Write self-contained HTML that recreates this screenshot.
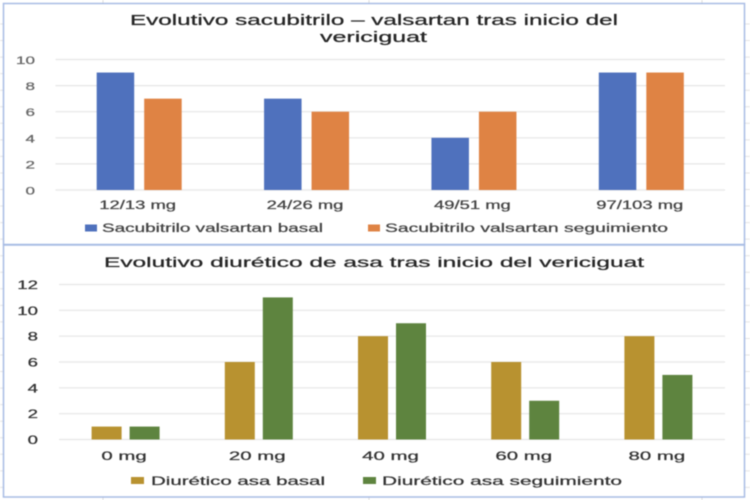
<!DOCTYPE html>
<html lang="es">
<head>
<meta charset="utf-8">
<title>Evolutivo sacubitrilo y diurético</title>
<style>
html,body{margin:0;padding:0;background:#fff;width:750px;height:500px;overflow:hidden}
svg{display:block;filter:blur(0.4px)}
text{font-family:"Liberation Sans",sans-serif;stroke:currentColor;stroke-width:0.25px}
</style>
</head>
<body>
<svg id="figure" xmlns="http://www.w3.org/2000/svg" width="750" height="500" viewBox="0 0 750 500">
  <g id="sheet"></g>
  <rect x="3.5" y="3.5" width="741" height="241" fill="#fff" stroke="#a8bce4" stroke-width="1.5"/>
  <rect x="3.5" y="245" width="741" height="252" fill="#fff" stroke="#a8bce4" stroke-width="1.5"/>

  <text x="130" y="25" font-size="14.5" fill="#262626" color="#262626" textLength="488" lengthAdjust="spacingAndGlyphs">Evolutivo sacubitrilo – valsartan tras inicio del</text>
  <text x="320" y="42" font-size="14.5" fill="#262626" color="#262626" textLength="107" lengthAdjust="spacingAndGlyphs">vericiguat</text>
  <g id="top-plot"></g>
  <rect x="85" y="224.5" width="12" height="7" fill="#4f71bd"/>
  <text x="102" y="232" font-size="11.5" fill="#444" color="#444" textLength="221" lengthAdjust="spacingAndGlyphs">Sacubitrilo valsartan basal</text>
  <rect x="368" y="224.5" width="12" height="7" fill="#df8344"/>
  <text x="385" y="232" font-size="11.5" fill="#444" color="#444" textLength="283" lengthAdjust="spacingAndGlyphs">Sacubitrilo valsartan seguimiento</text>

  <text x="104" y="267" font-size="14" fill="#262626" color="#262626" textLength="540" lengthAdjust="spacingAndGlyphs">Evolutivo diurético de asa tras inicio del vericiguat</text>
  <g id="bottom-plot"></g>
  <rect x="131" y="477" width="13" height="7" fill="#b89230"/>
  <text x="151" y="485" font-size="12" fill="#333" color="#333" textLength="174" lengthAdjust="spacingAndGlyphs">Diurético asa basal</text>
  <rect x="363" y="477" width="13" height="7" fill="#5e843f"/>
  <text x="382" y="485" font-size="12" fill="#333" color="#333" textLength="240" lengthAdjust="spacingAndGlyphs">Diurético asa seguimiento</text>
</svg>
<script>
const topCategories = ['12/13 mg', '24/26 mg', '49/51 mg', '97/103 mg'];
const topBasal = [9, 7, 4, 9];
const topSeguimiento = [7, 6, 6, 9];
const topTicks = [0, 2, 4, 6, 8, 10];

const bottomCategories = ['0 mg', '20 mg', '40 mg', '60 mg', '80 mg'];
const bottomBasal = [1, 6, 8, 6, 8];
const bottomSeguimiento = [1, 11, 9, 3, 5];
const bottomTicks = [0, 2, 4, 6, 8, 10, 12];

const NS = 'http://www.w3.org/2000/svg';

function make(parent, tag, attrs) {
  const el = document.createElementNS(NS, tag);
  for (const k in attrs) el.setAttribute(k, attrs[k]);
  parent.appendChild(el);
  return el;
}

function stretchedText(parent, str, x, y, size, fill, anchor, factor) {
  const t = make(parent, 'text', { x: x, y: y, 'font-size': size, fill: fill, color: fill, 'text-anchor': anchor });
  t.textContent = str;
  const natural = t.getComputedTextLength();
  t.setAttribute('textLength', natural * factor);
  t.setAttribute('lengthAdjust', 'spacingAndGlyphs');
  return t;
}

function drawChart(parent, cfg) {
  const maxTick = Math.max.apply(null, cfg.ticks);
  const yScale = v => cfg.y0 - (v / maxTick) * (cfg.y0 - cfg.yTop);
  const band = (cfg.x1 - cfg.x0) / cfg.categories.length;
  const xCenter = i => cfg.x0 + band * (i + 0.5);

  cfg.ticks.forEach(tick => {
    const y = yScale(tick);
    const line = make(parent, 'line', { x1: cfg.x0, x2: cfg.x1, y1: y, y2: y, stroke: '#e6e6e6', 'stroke-width': 1.2 });
    
    
    const label = stretchedText(parent, String(tick), cfg.tickX, y + 4.5, cfg.tickSize, cfg.tickFill, 'end', 1.55);
    
    
  });

  cfg.categories.forEach((cat, i) => {
    const cx = xCenter(i);
    const a = make(parent, 'rect', {
      x: cx - cfg.gap / 2 - cfg.barW, y: yScale(cfg.seriesA[i]),
      width: cfg.barW, height: cfg.y0 - yScale(cfg.seriesA[i]), fill: cfg.colorA
    });
    
    
    const b = make(parent, 'rect', {
      x: cx + cfg.gap / 2, y: yScale(cfg.seriesB[i]),
      width: cfg.barW, height: cfg.y0 - yScale(cfg.seriesB[i]), fill: cfg.colorB
    });
    
    
    const label = stretchedText(parent, cat, cx - 1.5, cfg.catY, cfg.catSize, cfg.catFill, 'middle', cfg.catStretch);
    
    
  });
}

drawChart(document.getElementById('top-plot'), {
  categories: topCategories, seriesA: topBasal, seriesB: topSeguimiento, ticks: topTicks,
  x0: 55.5, x1: 725, y0: 190, yTop: 59.5, barW: 37.5, gap: 10,
  colorA: '#4f71bd', colorB: '#df8344',
  tickX: 35, tickSize: 11, tickFill: '#666', catY: 209, catSize: 11.5, catFill: '#444', catStretch: 1.6
});

drawChart(document.getElementById('bottom-plot'), {
  categories: bottomCategories, seriesA: bottomBasal, seriesB: bottomSeguimiento, ticks: bottomTicks,
  x0: 59, x1: 725, y0: 439.5, yTop: 284.5, barW: 30, gap: 8,
  colorA: '#b89230', colorB: '#5e843f',
  tickX: 38, tickSize: 12, tickFill: '#333', catY: 460, catSize: 12, catFill: '#333', catStretch: 1.7
});

const sheet = document.getElementById('sheet');
for (let y = 24; y < 500; y += 16.55) {
  const rule = make(sheet, 'line', { x1: 0, x2: 750, y1: y, y2: y, stroke: '#e4e4e4', 'stroke-width': 1 });
  
  
}
[103, 369, 702].forEach(x => {
  const rule = make(sheet, 'line', { x1: x, x2: x, y1: 0, y2: 500, stroke: '#dcdcdc', 'stroke-width': 1 });
  
  
});
</script>
</body>
</html>
